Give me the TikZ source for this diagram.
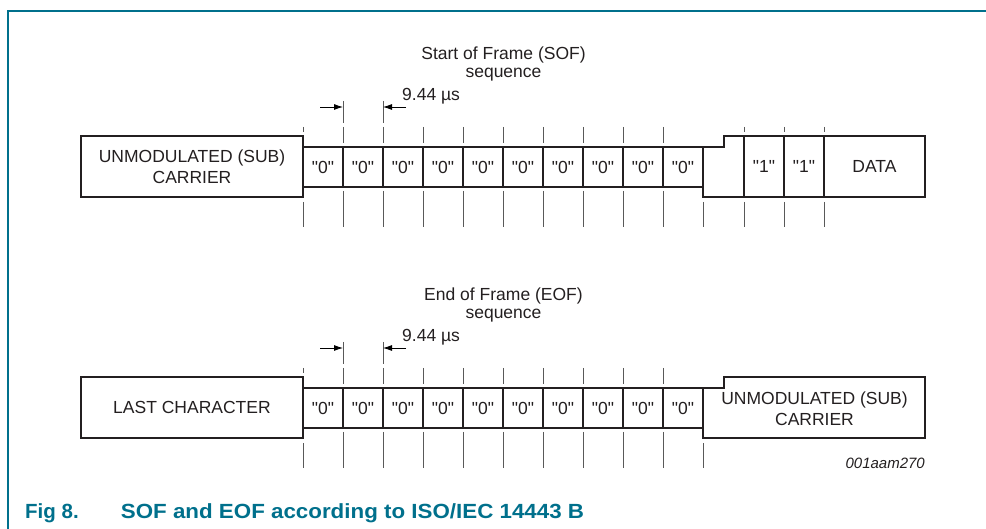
\documentclass[tikz,border=0pt]{standalone}
\usepackage{fontspec}
\newfontfamily\diagfont{Liberation Sans}
\usetikzlibrary{arrows.meta}
\definecolor{nxpteal}{RGB}{0,112,140}
\definecolor{ink}{RGB}{35,31,32}

\begin{document}
\begin{tikzpicture}[x=1pt,y=-1pt,
	txt/.style={font=\diagfont\fontsize{17.5}{21}\selectfont, text=ink, inner sep=0pt},
	cell/.style={txt, draw=ink, line width=2pt, minimum width=40pt, minimum height=40pt},
	blk/.style={txt, draw=ink, line width=2pt, minimum height=61pt, align=center},
	tick/.style={draw=black!65, line width=0.8pt},
	dim/.style={-{Latex[length=9pt,width=6pt]}, draw=black, line width=0.8pt},
	figcap/.style={font=\diagfont\bfseries\fontsize{20.5}{24}\selectfont, text=nxpteal, inner sep=0pt, anchor=base west}]
	\useasboundingbox (0,0) rectangle (986,529);
	\draw[nxpteal, line width=1.5pt] (8,529) -- (8,11) -- (986,11);

	% start of frame
	\node[txt, align=center, font=\diagfont\fontsize{17.5}{18.5}\selectfont] (softitle) at (503.5,64) {Start of Frame (SOF)\\sequence};
	\node[blk, minimum width=222pt] (sofcarrier) at (192,166.5) {UNMODULATED (SUB)\\CARRIER};
	\foreach \i in {1,...,10}
		\node[cell] (sz\i) at (283+40*\i,167) {"0"};
	\draw[ink, line width=2pt] (703,147) -- (724,147) -- (724,136) -- (744,136) -- (744,197) -- (703,197) -- cycle;
	\node[blk, minimum width=40pt] (so1) at (764,166.5) {"1"};
	\node[blk, minimum width=40pt] (so2) at (804,166.5) {"1"};
	\node[blk, minimum width=101pt] (sofdata) at (874.5,166.5) {DATA};
	\foreach \x in {343,383,...,663} {
		\draw[tick] (\x,127) -- (\x,143);
		\draw[tick] (\x,191) -- (\x,227);
	}
	\foreach \x in {303,744,784,824}
		\draw[tick] (\x,127) -- (\x,132);
	\foreach \x in {303,703,744,784,824}
		\draw[tick] (\x,202) -- (\x,227);
	\draw[tick] (343,101) -- (343,123);
	\draw[tick] (383,101) -- (383,123);
	\coordinate (sofa) at (320,107);
	\coordinate (sofb) at (406,107);
	\draw[dim] (sofa) -- (343,107);
	\draw[dim] (sofb) -- (383,107);
	\node[txt, anchor=base west] (sofdim) at (402,101) {9.44 µs};

	% end of frame
	\node[txt, align=center, font=\diagfont\fontsize{17.5}{18.5}\selectfont] (eoftitle) at (503.5,305) {End of Frame (EOF)\\sequence};
	\node[blk, minimum width=222pt] (eoflast) at (192,407.5) {LAST CHARACTER};
	\foreach \i in {1,...,10}
		\node[cell] (ez\i) at (283+40*\i,408) {"0"};
	\draw[ink, line width=2pt] (703,388) -- (724,388) -- (724,377) -- (925,377) -- (925,438) -- (703,438) -- cycle;
	\node[txt, align=center] (eofcarrier) at (814.5,408.5) {UNMODULATED (SUB)\\CARRIER};
	\foreach \x in {343,383,...,663} {
		\draw[tick] (\x,368) -- (\x,384);
		\draw[tick] (\x,432) -- (\x,468);
	}
	\draw[tick] (303,368) -- (303,373);
	\foreach \x in {303,703}
		\draw[tick] (\x,443) -- (\x,468);
	\draw[tick] (343,342) -- (343,364);
	\draw[tick] (383,342) -- (383,364);
	\coordinate (eofa) at (320,348);
	\coordinate (eofb) at (406,348);
	\draw[dim] (eofa) -- (343,348);
	\draw[dim] (eofb) -- (383,348);
	\node[txt, anchor=base west] (eofdim) at (402,342) {9.44 µs};

	\node[font=\diagfont\itshape\fontsize{15}{18}\selectfont, text=ink, inner sep=0pt, anchor=base east] (figid) at (925,468) {001aam270};
	\node[figcap] (fignum) at (25,518) {Fig 8.};
	\node[figcap] (figtitle) at (120.7,518) {\scalebox{1.09}[1]{SOF and EOF according to ISO/IEC 14443 B}};
\end{tikzpicture}
\end{document}
